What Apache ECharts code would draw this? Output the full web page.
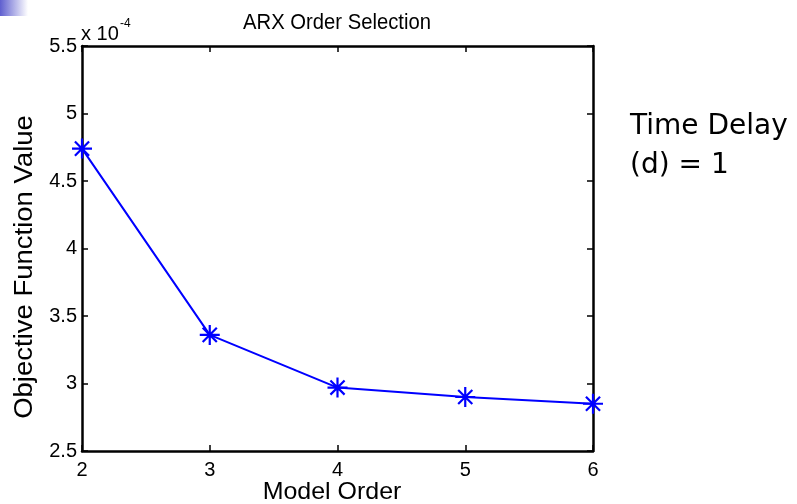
<!DOCTYPE html>
<html>
<head>
<meta charset="utf-8">
<script src="https://cdn.jsdelivr.net/npm/echarts@6/dist/echarts.min.js"></script>
<style>
  html, body { margin: 0; padding: 0; background: #fff; }
  #chart { width: 797px; height: 504px; }
</style>
</head>
<body>
<div id="chart"></div>
<script>
// Model orders tested and the objective function value for each (units of 1e-4)
const modelOrders = [2, 3, 4, 5, 6];
const objectiveValues = [4.74, 3.36, 2.97, 2.90, 2.85];
const yTicks = [2.5, 3, 3.5, 4, 4.5, 5, 5.5];
const xTicks = [2, 3, 4, 5, 6];

const FONT = '"Liberation Sans", Arial, Helvetica, sans-serif';
const NOTE_FONT = '"Comic Sans MS", "DejaVu Sans", sans-serif';

// Asterisk marker: vertical, horizontal and two diagonal bars
const s = 0.7071;
function bar(x1, y1, x2, y2, w) {
  const dx = x2 - x1, dy = y2 - y1;
  const len = Math.hypot(dx, dy);
  const nx = -dy / len * w, ny = dx / len * w;
  return 'M' + (x1 + nx) + ',' + (y1 + ny) + 'L' + (x2 + nx) + ',' + (y2 + ny) +
         'L' + (x2 - nx) + ',' + (y2 - ny) + 'L' + (x1 - nx) + ',' + (y1 - ny) + 'Z';
}
const asterisk = 'path://' +
  bar(0, -10, 0, 10, 1.1) + bar(-10, 0, 10, 0, 1.1) +
  bar(-10 * s, -10 * s, 10 * s, 10 * s, 1.1) + bar(-10 * s, 10 * s, 10 * s, -10 * s, 1.1);

const chart = echarts.init(document.getElementById('chart'));

const grid = { left: 82, right: 204, top: 46, bottom: 53 };

const tickStyle = { show: true, inside: true, length: 6, lineStyle: { color: '#000', width: 1.5 } };
const lineStyleAxis = { show: true, lineStyle: { color: '#000', width: 2.5 } };

function label(text, x, y, size, opts) {
  return Object.assign({
    type: 'text', x: x, y: y,
    style: Object.assign({
      text: text, fontFamily: FONT, fontSize: size, fill: '#000',
      align: 'center', verticalAlign: 'middle'
    }, (opts && opts.style) || {})
  }, (opts && opts.el) || {});
}

chart.setOption({
  animation: false,
  backgroundColor: '#fff',
  graphic: [
    {
      type: 'rect', x: 0, y: 0,
      shape: { width: 28, height: 16 },
      style: {
        fill: new echarts.graphic.LinearGradient(0, 0, 1, 0, [
          { offset: 0, color: '#5f5fcf' },
          { offset: 1, color: '#ffffff' }
        ])
      }
    },
    // title
    label('ARX Order Selection', 337, 23, 22, { el: { scaleX: 0.92 } }),
    // axis names
    label('Model Order', 332, 492, 24, { el: { scaleX: 1.04 } }),
    label('Objective Function Value', 25, 267, 25, { el: { rotation: Math.PI / 2, scaleX: 1.1 } }),
    // exponent of the y axis
    label('x 10', 81, 34, 20, { style: { align: 'left' } }),
    label('-4', 120, 24, 12, { style: { align: 'left' } }),
    // note beside the plot
    label('Time Delay', 630, 127, 28, { style: { align: 'left', fontFamily: NOTE_FONT } }),
    label('(d) = 1', 630, 166, 28, { style: { align: 'left', fontFamily: NOTE_FONT } })
  ],
  grid: grid,
  xAxis: [
    {
      type: 'value', min: 2, max: 6, interval: 1,
      axisLine: lineStyleAxis, axisTick: tickStyle,
      axisLabel: { fontFamily: FONT, fontSize: 20, color: '#000', margin: 9,
        formatter: v => xTicks.includes(v) ? String(v) : '' },
      splitLine: { show: false }
    },
    {
      type: 'value', min: 2, max: 6, interval: 1, position: 'top',
      axisLine: lineStyleAxis, axisTick: tickStyle,
      axisLabel: { show: false }, splitLine: { show: false }
    }
  ],
  yAxis: [
    {
      type: 'value', min: 2.5, max: 5.5, interval: 0.5,
      axisLine: lineStyleAxis, axisTick: tickStyle,
      axisLabel: { fontFamily: FONT, fontSize: 20, color: '#000', margin: 5,
        formatter: v => yTicks.includes(v) ? String(v) : '' },
      splitLine: { show: false }
    },
    {
      type: 'value', min: 2.5, max: 5.5, interval: 0.5, position: 'right',
      axisLine: lineStyleAxis, axisTick: tickStyle,
      axisLabel: { show: false }, splitLine: { show: false }
    }
  ],
  series: [
    {
      type: 'line',
      data: modelOrders.map((x, i) => [x, objectiveValues[i]]),
      symbol: asterisk, symbolSize: 20,
      showAllSymbol: true,
      clip: false,
      lineStyle: { color: '#0000ff', width: 2 },
      itemStyle: { color: '#0000ff' },
      z: 5
    }
  ]
});
</script>
</body>
</html>
